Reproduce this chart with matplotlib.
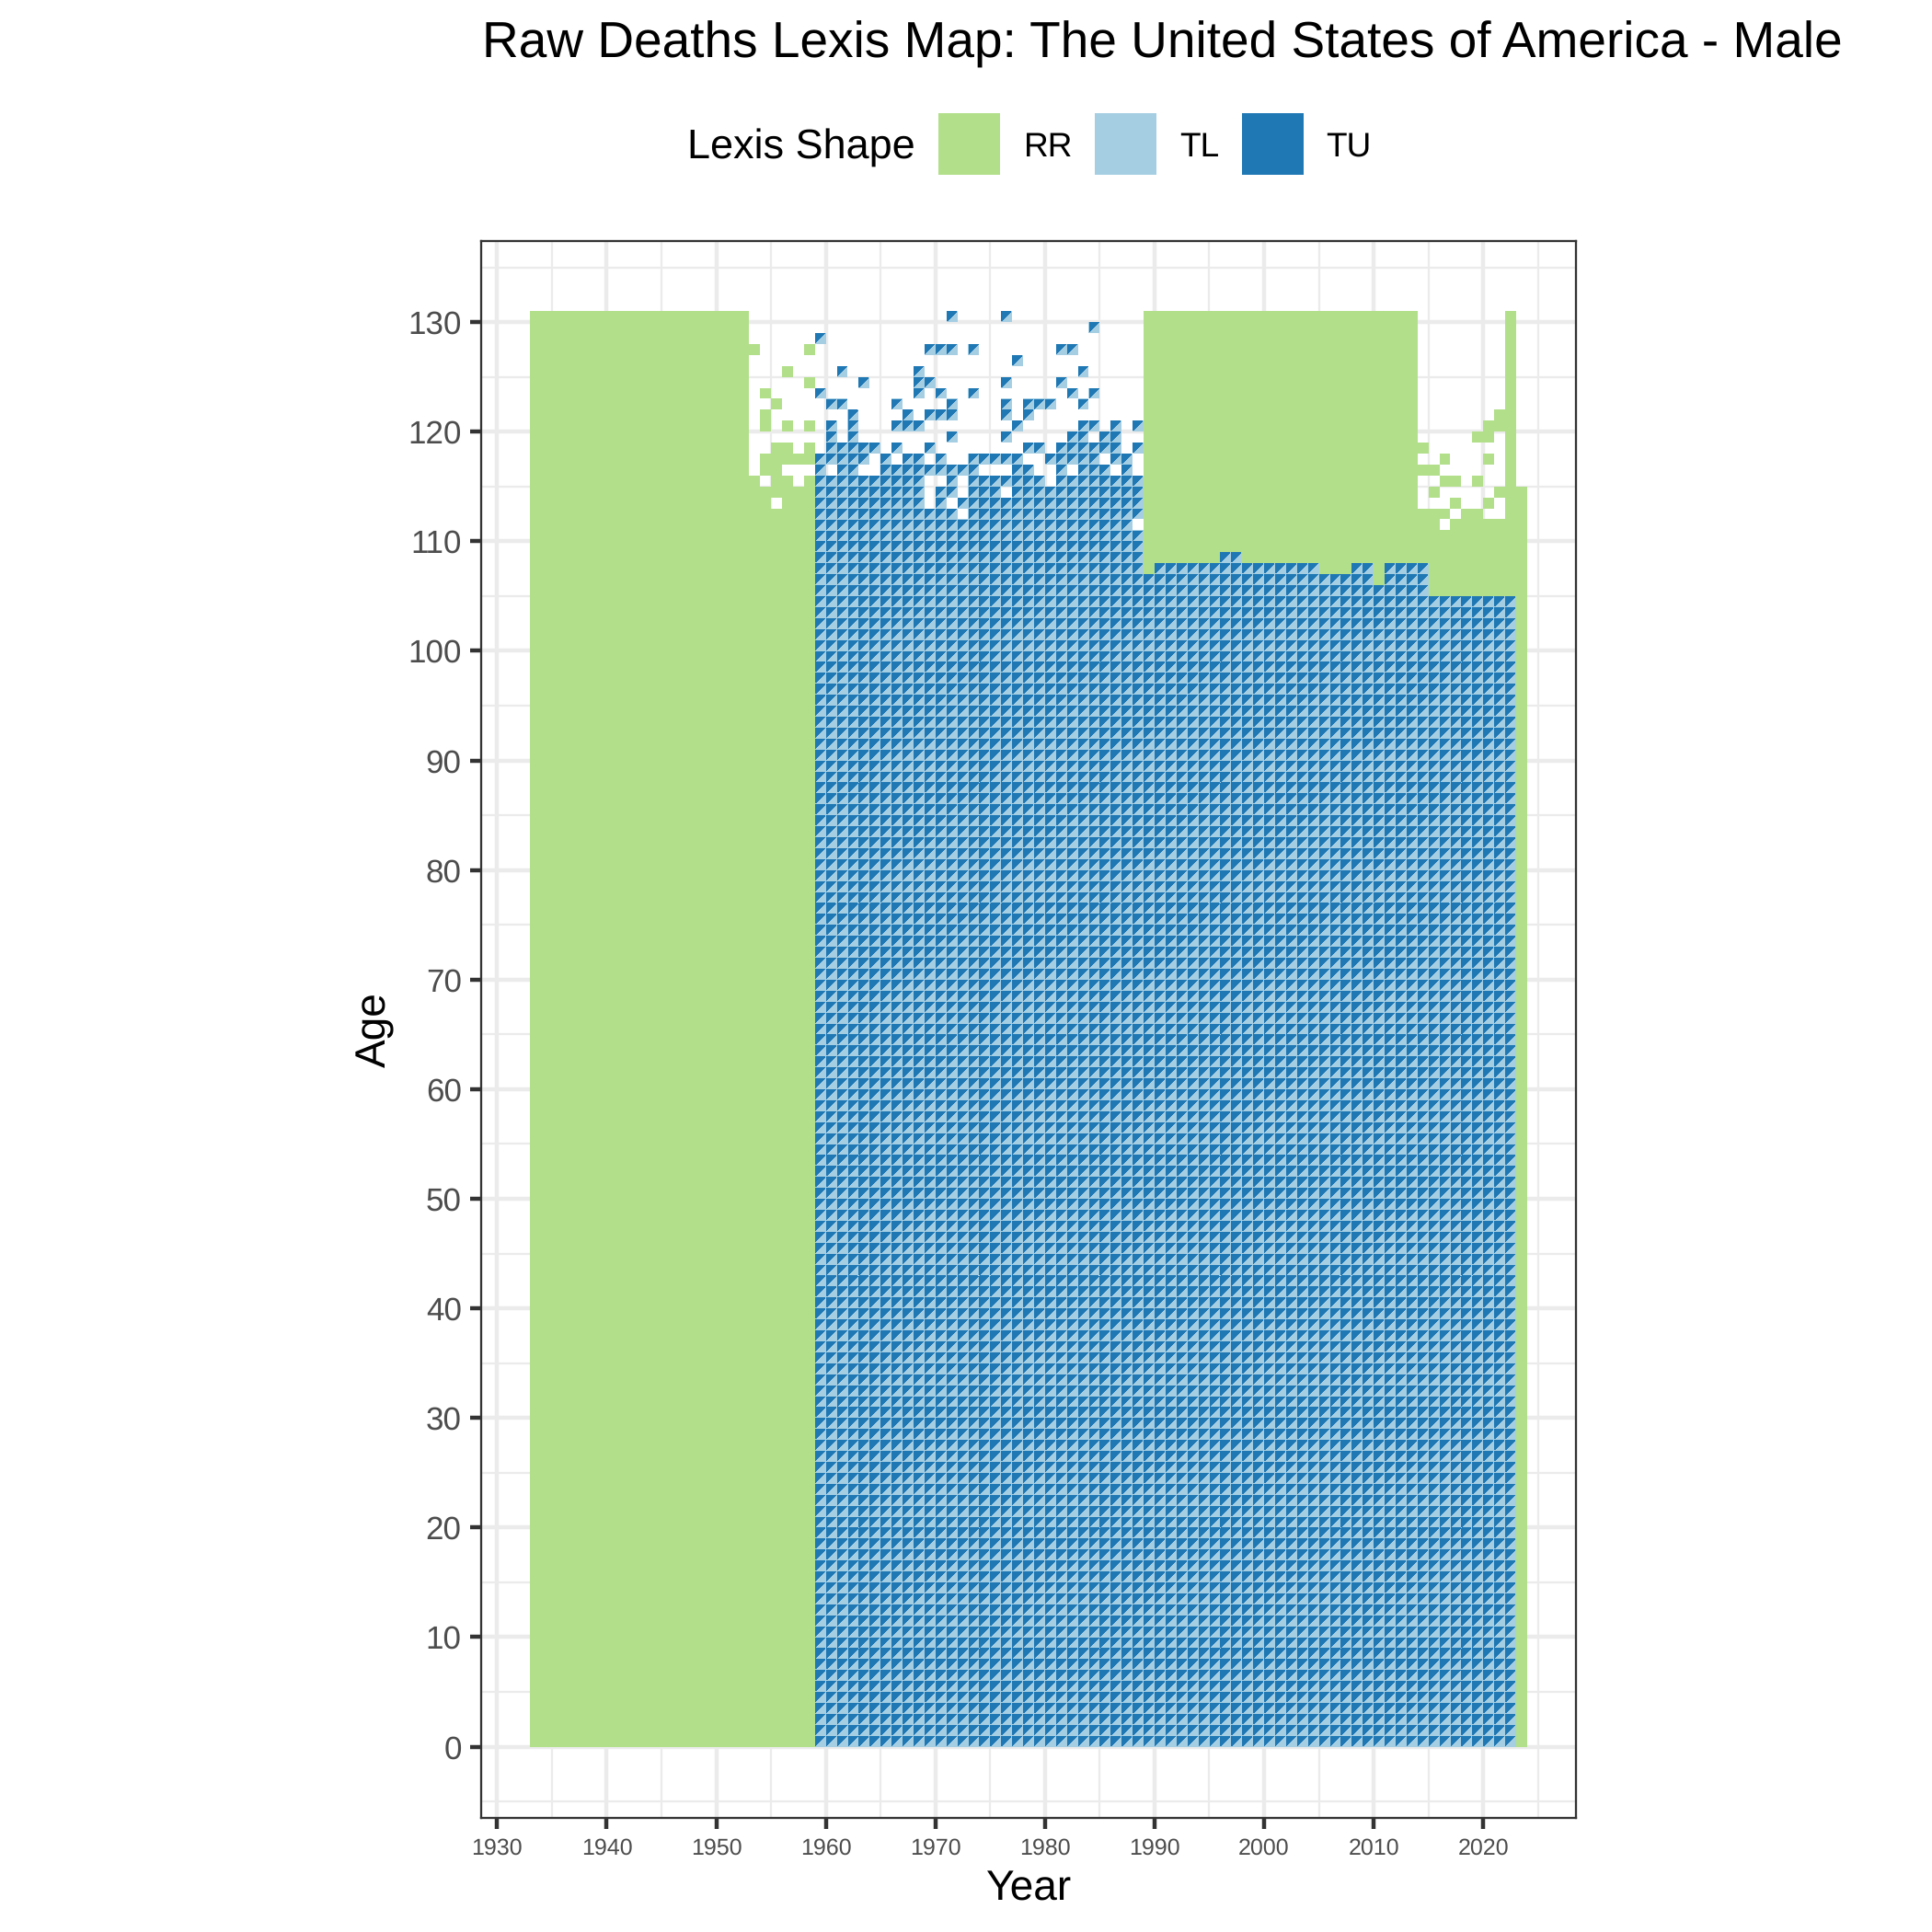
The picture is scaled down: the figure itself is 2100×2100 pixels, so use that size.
import matplotlib
matplotlib.use("Agg")
import matplotlib.pyplot as plt
from matplotlib.collections import PolyCollection
from matplotlib.patches import Rectangle

plt.rcParams['font.family'] = ['Liberation Sans', 'DejaVu Sans']
plt.rcParams['text.hinting'] = 'no_hinting'
plt.rcParams['text.hinting_factor'] = 1

# Colores de cada forma de Lexis
color_rr = '#B2DF8A'
color_tl = '#A6CEE3'
color_tu = '#1F78B4'
color_grid = '#EBEBEB'
color_border = '#333333'
color_ticktext = '#4D4D4D'

legend_labels = ['RR', 'TL', 'TU']
x_major = list(range(1930, 2021, 10))
x_minor = list(range(1935, 2026, 10))
y_major = list(range(0, 131, 10))
y_minor = list(range(-5, 136, 10))

# RR: bloques completos (año inicial, año final, edad inicial, edad final)
rr_blocks = [
    (1933, 1952, 0, 130),
    (1953, 1958, 0, 112),
    (1989, 1989, 107, 130),
    (1990, 2013, 108, 130),
    (2005, 2007, 107, 107),
    (2010, 2010, 106, 107),
    (2014, 2014, 108, 110),
    (2015, 2021, 105, 110),
    (2022, 2022, 105, 130),
    (2023, 2023, 0, 114),
]
rr_skip = {108: [1996, 1997]}

# RR: celdas sueltas por edad
rr_sparse = {
    127: [1953, 1958],
    125: [1956],
    124: [1958],
    123: [1954],
    122: [1955],
    121: [1954, 2021],
    120: [1954, 1956, 1958, 2020, 2021],
    119: [2019, 2020],
    118: [1955, 1956, 1958, 2014],
    117: [1954, 1955, 1956, 1957, 1958, 2016, 2020],
    116: [1954, 1955, 2014, 2015],
    115: [1953, 1955, 1956, 1958, 2016, 2017, 2019],
    114: [1953, 1954, 1955, 1956, 1957, 1958, 2015, 2021],
    113: [1953, 1954, 1956, 1957, 1958, 2017, 2020],
    112: [2014, 2015, 2016, 2018, 2019],
    111: [2014, 2015, 2017, 2018, 2019, 2020, 2021],
}

# Triangulos TL/TU: edad maxima por bloque de años (año inicial, año final, edad maxima)
tri_tops = [
    (1959, 1988, 110),
    (1989, 1989, 106),
    (1990, 1995, 107),
    (1996, 1997, 108),
    (1998, 2004, 107),
    (2005, 2007, 106),
    (2008, 2009, 107),
    (2010, 2010, 105),
    (2011, 2014, 107),
    (2015, 2022, 104),
]

# Triangulos TL/TU: tramos sueltos de años por edad, 1959-1988
tri_sparse = {
    130: [(1971, 1971), (1976, 1976)],
    129: [(1984, 1984)],
    128: [(1959, 1959)],
    127: [(1969, 1971), (1973, 1973), (1981, 1982)],
    126: [(1977, 1977)],
    125: [(1961, 1961), (1968, 1968), (1983, 1983)],
    124: [(1963, 1963), (1968, 1969), (1976, 1976), (1981, 1981)],
    123: [(1959, 1959), (1968, 1968), (1970, 1970), (1973, 1973), (1982, 1982), (1984, 1984)],
    122: [(1960, 1961), (1966, 1966), (1971, 1971), (1976, 1976), (1978, 1980), (1983, 1983)],
    121: [(1962, 1962), (1967, 1967), (1969, 1971), (1976, 1976), (1978, 1978)],
    120: [(1960, 1960), (1962, 1962), (1966, 1968), (1977, 1977), (1983, 1984), (1986, 1986), (1988, 1988)],
    119: [(1960, 1960), (1962, 1962), (1971, 1971), (1976, 1976), (1982, 1983), (1985, 1986)],
    118: [(1960, 1964), (1966, 1966), (1969, 1969), (1978, 1979), (1981, 1986), (1988, 1988)],
    117: [(1959, 1963), (1965, 1965), (1967, 1968), (1970, 1970), (1973, 1977), (1980, 1984), (1986, 1987)],
    116: [(1959, 1959), (1961, 1962), (1965, 1973), (1977, 1978), (1981, 1981), (1983, 1985), (1987, 1987)],
    115: [(1959, 1968), (1971, 1971), (1973, 1979), (1981, 1988)],
    114: [(1959, 1968), (1970, 1971), (1973, 1975), (1977, 1988)],
    113: [(1959, 1968), (1970, 1970), (1972, 1988)],
    112: [(1959, 1971), (1973, 1988)],
    111: [(1959, 1987)],
}

# Construir las celdas a partir de los datos
rr_cells = set()
for y0, y1, a0, a1 in rr_blocks:
    for year in range(y0, y1 + 1):
        for age in range(a0, a1 + 1):
            rr_cells.add((year, age))
for age, years in rr_skip.items():
    for year in years:
        rr_cells.discard((year, age))
for age, years in rr_sparse.items():
    for year in years:
        rr_cells.add((year, age))

tri_cells = set()
for y0, y1, top in tri_tops:
    for year in range(y0, y1 + 1):
        for age in range(0, top + 1):
            tri_cells.add((year, age))
for age, spans in tri_sparse.items():
    for y0, y1 in spans:
        for year in range(y0, y1 + 1):
            tri_cells.add((year, age))

# Sin antialias el triangulo oscuro invade la celda vecina; se recorta un poco
e = 0.05
rr_polys = [[(y, a), (y + 1, a), (y + 1, a + 1), (y, a + 1)] for y, a in sorted(rr_cells)]
tl_polys = [[(y, a), (y + 1, a), (y + 1, a + 1), (y, a + 1)] for y, a in sorted(tri_cells)]
tu_polys = [[(y + e, a + 2 * e), (y + 1 - 2 * e, a + 1 - e), (y + e, a + 1 - e)] for y, a in sorted(tri_cells)]


def px(x, y):
    return x / 2100, 1 - y / 2100


fig = plt.figure(figsize=(7, 7), dpi=300)
left, top = px(522.7, 262.3)
right, bottom = px(1712.7, 1976)
ax = fig.add_axes([left, bottom, right - left, top - bottom])

ax.add_collection(PolyCollection(rr_polys, facecolors=color_rr, edgecolors='none', antialiaseds=False, zorder=3))
ax.add_collection(PolyCollection(tl_polys, facecolors=color_tl, edgecolors='none', antialiaseds=False, zorder=3))
ax.add_collection(PolyCollection(tu_polys, facecolors=color_tu, edgecolors='none', antialiaseds=False, zorder=3))

ax.set_xlim(1928.52, 2028.44)
ax.set_ylim(-6.50, 137.37)

ax.set_xticks(x_major)
ax.set_yticks(y_major)
ax.set_xticks(x_minor, minor=True)
ax.set_yticks(y_minor, minor=True)
ax.set_axisbelow(True)
ax.grid(True, which='major', color=color_grid, linewidth=1.07)
ax.grid(True, which='minor', color=color_grid, linewidth=0.53)
ax.tick_params(which='minor', length=0)
ax.tick_params(axis='x', which='major', length=2.9, width=1.07, color=color_border,
               labelsize=6, labelcolor=color_ticktext, pad=2.3)
ax.tick_params(axis='y', which='major', length=2.9, width=1.07, color=color_border,
               labelsize=8.5, labelcolor=color_ticktext, pad=2.15)
for spine in ax.spines.values():
    spine.set_color(color_border)
    spine.set_linewidth(0.55)

# Titulos
x, y = px(524, 63)
fig.text(x, y, 'Raw Deaths Lexis Map: The United States of America - Male', fontsize=13.13, ha='left', va='baseline')
x, y = px(1119, 2066)
fig.text(x, y, 'Year', fontsize=11, ha='center', va='baseline')
x, y = px(419, 1119)
fig.text(x, y, 'Age', fontsize=11, rotation=90, ha='center', va='baseline', rotation_mode='anchor')

# Leyenda
x, y = px(747.2, 172)
fig.text(x, y, 'Lexis Shape', fontsize=10.8, ha='left', va='baseline')
key_x = [1019.6, 1190.2, 1350]
label_x = [1112.6, 1282.3, 1441.3]
key_colors = [color_rr, color_tl, color_tu]
for kx, lx, c, lab in zip(key_x, label_x, key_colors, legend_labels):
    x, y = px(kx, 190)
    fig.patches.append(Rectangle((x, y), 67 / 2100, 67 / 2100, transform=fig.transFigure,
                                 facecolor=c, edgecolor='none', figure=fig))
    x, y = px(lx, 170)
    fig.text(x, y, lab, fontsize=8.8, ha='left', va='baseline')

fig.savefig('out.png', dpi=300)
